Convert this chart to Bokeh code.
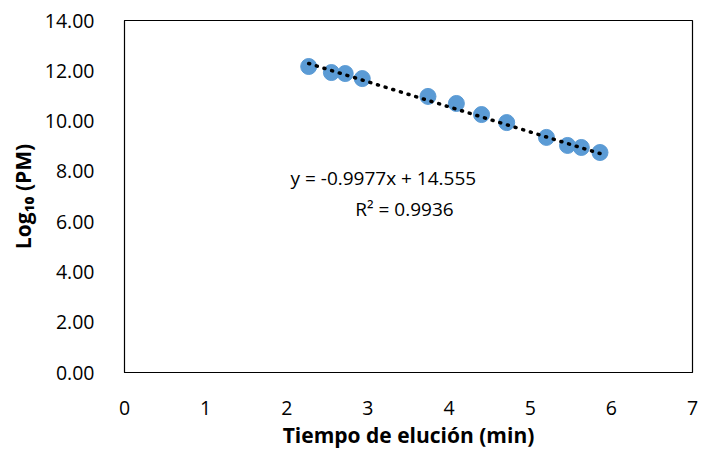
import numpy as np
from bokeh.plotting import figure
from bokeh.models import FixedTicker, NumeralTickFormatter, Label, ColumnDataSource
from bokeh.embed import file_html
from bokeh.resources import INLINE

# Data
tiempo = [2.27, 2.55, 2.72, 2.93, 3.74, 4.09, 4.40, 4.71, 5.20, 5.46, 5.63, 5.86]
log_pm = [12.17, 11.93, 11.89, 11.69, 10.98, 10.70, 10.26, 9.94, 9.35, 9.03, 8.95, 8.75]
slope = -0.9977
intercept = 14.555
r2 = 0.9936
x_ticks = [0, 1, 2, 3, 4, 5, 6, 7]
y_ticks = [0, 2, 4, 6, 8, 10, 12, 14]

FONT = "Open Sans"

p = figure(width=702, height=460, output_backend="svg", toolbar_location=None,
           x_range=(0, 7), y_range=(0, 14),
           min_border_left=124, min_border_right=10, min_border_top=20, min_border_bottom=88)
p.background_fill_color = "white"
p.border_fill_color = "white"
p.outline_line_color = "black"
p.outline_line_width = 1.2
p.xgrid.visible = False
p.ygrid.visible = False

for ax in (p.xaxis[0], p.yaxis[0]):
    ax.major_tick_line_color = None
    ax.minor_tick_line_color = None
    ax.major_label_text_font = FONT
    ax.major_label_text_font_size = "19.5px"
    ax.major_label_text_color = "black"
    ax.axis_label_text_font = FONT
    ax.axis_label_text_font_style = "bold"
    ax.axis_label_text_font_size = "21px"
    ax.axis_label_text_color = "black"
    ax.axis_line_color = "black"

p.xaxis.ticker = FixedTicker(ticks=x_ticks)
p.yaxis.ticker = FixedTicker(ticks=y_ticks)
p.yaxis.formatter = NumeralTickFormatter(format="0.00")
p.xaxis.major_label_standoff = 22
p.yaxis.major_label_standoff = 24
p.xaxis.axis_label = "Tiempo de elución (min)"
p.yaxis.axis_label = "Log\u2081\u2080 (PM)"
p.xaxis.axis_label_standoff = 3
p.yaxis.axis_label_standoff = 5

src = ColumnDataSource(dict(x=tiempo, y=log_pm))
p.scatter("x", "y", source=src, size=16, fill_color="#5B9BD5", line_color="#5B9BD5")

# linear trendline from the stated fit
xt = np.array([min(tiempo), max(tiempo)])
yt = slope * xt + intercept
p.line(xt, yt, line_color="black", line_width=3.5, line_dash="1 7", line_cap="round")

p.add_layout(Label(x=3.19, y=7.72, text=f"y = {slope}x + {intercept}", text_font=FONT,
                   text_font_size="19px", text_align="center", text_baseline="middle",
                   text_color="black"))
p.add_layout(Label(x=3.45, y=6.52, text=f"R\u00b2 = {r2}", text_font=FONT,
                   text_font_size="19px", text_align="center", text_baseline="middle",
                   text_color="black"))

open("out.html", "w").write(file_html(p, INLINE))
